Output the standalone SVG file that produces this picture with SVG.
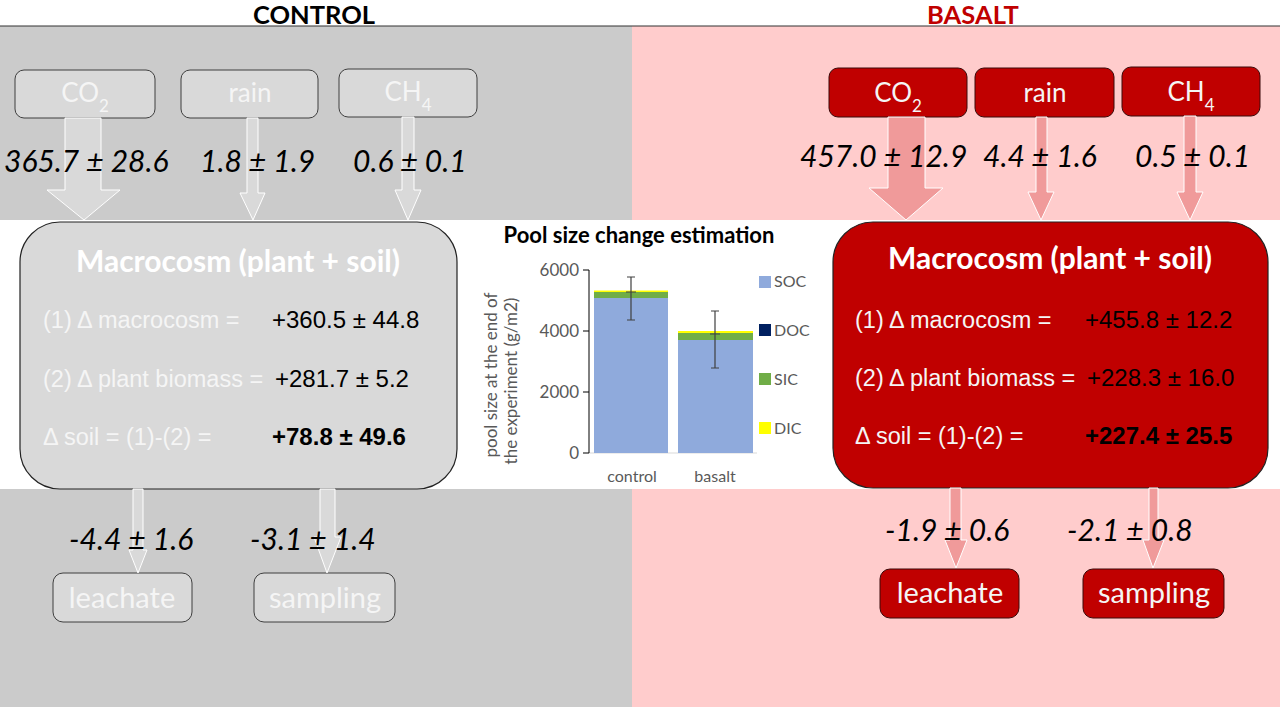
<svg xmlns="http://www.w3.org/2000/svg" width="1280" height="707" viewBox="0 0 1280 707">
<style>
.hdr{font-family:Lato,"Open Sans",sans-serif;font-weight:bold;font-size:25.5px;text-anchor:middle}
.bc{fill:#d9d9d9;stroke:#3f3f3f;stroke-width:1}
.bb{fill:#c00000;stroke:#3a0a0a;stroke-width:1}
.lbl{font-family:Lato,"Open Sans",sans-serif;font-size:26px;fill:#f5f5f5;text-anchor:middle}
.lbl2{font-family:Lato,"Open Sans",sans-serif;font-size:29px;fill:#f5f5f5;text-anchor:middle}
.sub{font-size:17px}
.flux{font-family:Lato,"Open Sans",sans-serif;font-size:30px;font-style:italic;fill:#000}
.ac{fill:#d9d9d9;stroke:#ffffff;stroke-width:1}
.ab{fill:#f09a9a;stroke:#ffffff;stroke-width:1}
.ttl{font-family:Lato,"Open Sans",sans-serif;font-weight:bold;font-size:30px;fill:#ffffff;text-anchor:middle}
.eq{font-family:"Liberation Sans",Arial,sans-serif;font-size:23.5px;fill:#f5f5f5}
.val{font-family:"Liberation Sans",Arial,sans-serif;font-size:24px;fill:#000}
.bold{font-weight:bold}
.ax{font-family:Lato,"Open Sans",sans-serif;font-size:16px;fill:#595959}
.tick{font-size:17px;text-anchor:end}
.ytl{font-size:17px;text-anchor:middle}
.err{stroke:#404040;stroke-width:1.2;fill:none}
</style>
<rect x="0" y="0" width="1280" height="707" fill="#ffffff"/>
<rect x="0" y="26" width="632" height="681" fill="#cbcbcb"/>
<rect x="632" y="26" width="648" height="681" fill="#ffcccc"/>
<rect x="0" y="220" width="1280" height="269" fill="#ffffff"/>
<line x1="0" y1="26" x2="1280" y2="26" stroke="#333333" stroke-width="1.2"/>
<text class="hdr" x="314" y="24" fill="#000000">CONTROL</text>
<text class="hdr" x="973" y="24" fill="#c00000">BASALT</text>

<g id="control-co2"><rect class="bc" x="15" y="70" width="140" height="48" rx="9"/><text class="lbl" x="85" y="102">CO<tspan class="sub" dy="10">2</tspan></text></g>
<g id="control-rain"><rect class="bc" x="181" y="70" width="137" height="48" rx="9"/><text class="lbl" x="250" y="102">rain</text></g>
<g id="control-ch4"><rect class="bc" x="339" y="69" width="138" height="48" rx="9"/><text class="lbl" x="408" y="101">CH<tspan class="sub" dy="10">4</tspan></text></g>

<g id="basalt-co2"><rect class="bb" x="829" y="68" width="138" height="49" rx="9"/><text class="lbl" x="898" y="102">CO<tspan class="sub" dy="10">2</tspan></text></g>
<g id="basalt-rain"><rect class="bb" x="975" y="68" width="139" height="49" rx="9"/><text class="lbl" x="1045" y="102">rain</text></g>
<g id="basalt-ch4"><rect class="bb" x="1122" y="67" width="138" height="49" rx="9"/><text class="lbl" x="1191" y="101">CH<tspan class="sub" dy="10">4</tspan></text></g>

<g id="control-macrocosm">
<rect x="20" y="222" width="437" height="267" rx="40" fill="#d9d9d9" stroke="#222222" stroke-width="1.2"/>
<text class="ttl" x="238" y="272">Macrocosm (plant + soil)</text>
<text class="eq" x="43" y="328">(1) Δ macrocosm =</text>
<text class="val" x="272" y="328">+360.5 ± 44.8</text>
<text class="eq" x="43" y="387">(2) Δ plant biomass =</text>
<text class="val" x="275" y="387">+281.7 ± 5.2</text>
<text class="eq" x="43" y="445">Δ soil = (1)-(2) =</text>
<text class="val bold" x="272" y="445">+78.8 ± 49.6</text>
</g>

<g id="basalt-macrocosm">
<rect x="833" y="222" width="435" height="266" rx="40" fill="#c00000" stroke="#222222" stroke-width="1.2"/>
<text class="ttl" x="1050" y="269">Macrocosm (plant + soil)</text>
<text class="eq" x="855" y="328">(1) Δ macrocosm =</text>
<text class="val" x="1085" y="328">+455.8 ± 12.2</text>
<text class="eq" x="855" y="386">(2) Δ plant biomass =</text>
<text class="val" x="1087" y="386">+228.3 ± 16.0</text>
<text class="eq" x="855" y="444">Δ soil = (1)-(2) =</text>
<text class="val bold" x="1085" y="444">+227.4 ± 25.5</text>
</g>

<g id="control-leachate"><rect class="bc" x="53" y="573" width="139" height="49" rx="10"/><text class="lbl2" x="122" y="608">leachate</text></g>
<g id="control-sampling"><rect class="bc" x="254" y="573" width="141" height="49" rx="10"/><text class="lbl2" x="325" y="608">sampling</text></g>
<g id="basalt-leachate"><rect class="bb" x="880" y="569" width="139" height="49" rx="10"/><text class="lbl2" x="950" y="603">leachate</text></g>
<g id="basalt-sampling"><rect class="bb" x="1083" y="569" width="141" height="49" rx="10"/><text class="lbl2" x="1154" y="603">sampling</text></g>

<g id="connectors">
<path class="ac" d="M65 118 L101 118 L101 190 L120 190 L84 220 L47 190 L65 190 Z"/>
<path class="ac" d="M247 118 L258 118 L258 193 L265 193 L253 220 L240 193 L247 193 Z"/>
<path class="ac" d="M402 117 L414 117 L414 190 L421 190 L408 220 L395 190 L402 190 Z"/>
<path class="ab" d="M888 117 L925 117 L925 188 L943 188 L906 220 L869 188 L888 188 Z"/>
<path class="ab" d="M1036 117 L1047 117 L1047 192 L1054 192 L1041 220 L1028 192 L1036 192 Z"/>
<path class="ab" d="M1184 116 L1196 116 L1196 192 L1203 192 L1190 220 L1177 192 L1184 192 Z"/>
<path class="ac" d="M133 489 L143 489 L143 550 L147 550 L138 573 L129 550 L133 550 Z"/>
<path class="ac" d="M320 489 L335 489 L335 537 L341 537 L327 573 L314 537 L320 537 Z"/>
<path class="ab" d="M950 488 L961 488 L961 540 L967 540 L956 568 L945 540 L950 540 Z"/>
<path class="ab" d="M1149 488 L1158 488 L1158 540 L1164 540 L1153 568 L1143 540 L1149 540 Z"/>
</g>

<g id="flux-labels">
<text class="flux" x="4" y="172">365.7 ± 28.6</text>
<text class="flux" x="200" y="172">1.8 ± 1.9</text>
<text class="flux" x="353" y="172">0.6 ± 0.1</text>
<text class="flux" x="800" y="167">457.0 ± 12.9</text>
<text class="flux" x="983" y="167">4.4 ± 1.6</text>
<text class="flux" x="1135" y="167">0.5 ± 0.1</text>
<text class="flux" x="69" y="550">-4.4 ± 1.6</text>
<text class="flux" x="250" y="550">-3.1 ± 1.4</text>
<text class="flux" x="885" y="541">-1.9 ± 0.6</text>
<text class="flux" x="1067" y="541">-2.1 ± 0.8</text>
</g>

<g id="chart">
<text x="639" y="243" font-family="Lato, 'Open Sans', sans-serif" font-weight="bold" font-size="22" fill="#000" text-anchor="middle">Pool size change estimation</text>
<line x1="589" y1="453" x2="757" y2="453" stroke="#d9d9d9" stroke-width="1"/>
<rect x="594" y="298" width="74" height="155" fill="#8faadc"/>
<rect x="594" y="292" width="74" height="6" fill="#70ad47"/>
<rect x="594" y="290.5" width="74" height="1.5" fill="#ffff00"/>
<rect x="678" y="340" width="75" height="113" fill="#8faadc"/>
<rect x="678" y="333" width="75" height="7" fill="#70ad47"/>
<rect x="678" y="331" width="75" height="2" fill="#ffff00"/>
<path class="err" d="M631 277 V320 M627 277 H635 M627 320 H635 M626 292 H636"/>
<path class="err" d="M715 311 V368 M711 311 H719 M711 368 H719 M710 334 H720"/>
<path d="M589 270 V453 M583 270 H589 M583 331 H589 M583 392 H589 M583 453 H589" stroke="#000" stroke-width="1" fill="none"/>
<text class="ax tick" x="579" y="276">6000</text>
<text class="ax tick" x="579" y="337">4000</text>
<text class="ax tick" x="579" y="398">2000</text>
<text class="ax tick" x="579" y="459">0</text>
<text class="ax" x="632" y="482" text-anchor="middle">control</text>
<text class="ax" x="715" y="482" text-anchor="middle">basalt</text>
<text class="ax ytl" transform="translate(497,375) rotate(-90)">pool size at the end of</text>
<text class="ax ytl" transform="translate(517,381) rotate(-90)">the experiment (g/m2)</text>
<rect x="759" y="276" width="12" height="12" fill="#8faadc"/>
<rect x="759" y="324" width="12" height="12" fill="#002060"/>
<rect x="759" y="373" width="12" height="12" fill="#70ad47"/>
<rect x="759" y="422" width="12" height="12" fill="#ffff00"/>
<text class="ax" x="774" y="287">SOC</text>
<text class="ax" x="774" y="336">DOC</text>
<text class="ax" x="774" y="385">SIC</text>
<text class="ax" x="774" y="434">DIC</text>
</g>
</svg>
